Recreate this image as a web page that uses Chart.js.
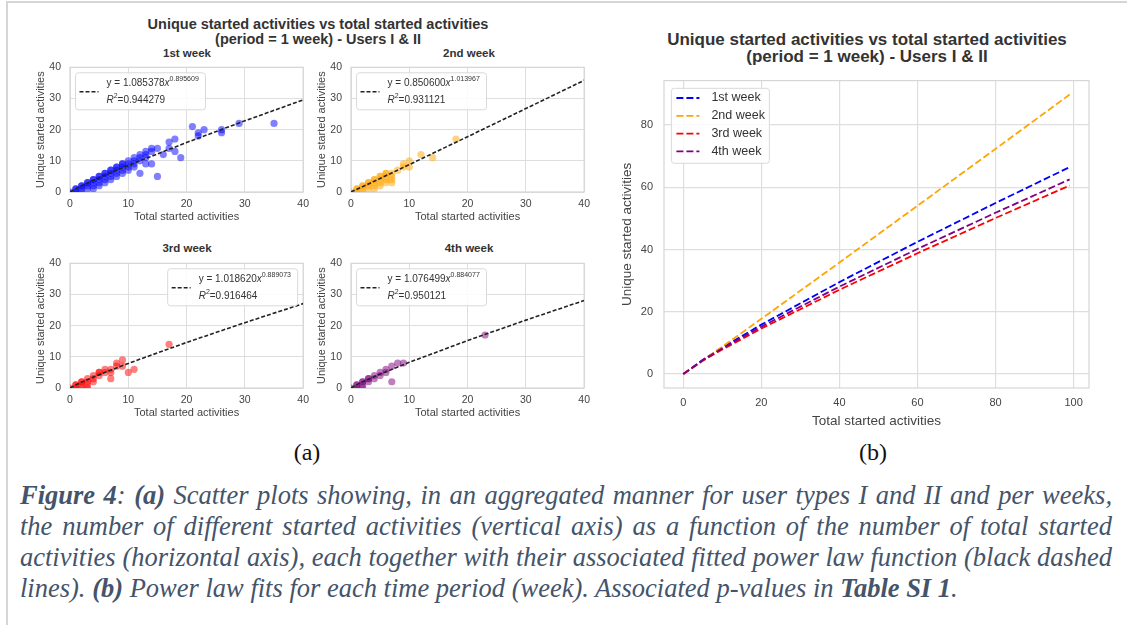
<!DOCTYPE html>
<html lang="en">
<head>
<meta charset="UTF-8">
<title>Unique started activities vs total started activities</title>
<script src="https://cdn.jsdelivr.net/npm/chart.js"></script>
<style>
  body { margin: 0; background: #fff; }
  #page { position: relative; width: 1127px; height: 625px; overflow: hidden; background: #fff;
          font-family: 'Liberation Sans', Arial, sans-serif; }
  .frame { position: absolute; left: 6px; top: 1px; width: 1200px; height: 700px;
           border-left: 2px solid #d6d6d6; border-top: 2px solid #d6d6d6; }
  canvas { position: absolute; }
  .title { position: absolute; text-align: center; font-weight: bold; color: #333; white-space: nowrap; }
  .sub { width: 200px; font-size: 11.5px; line-height: 14px; }
  .panel { position: absolute; font-family: 'Liberation Serif', 'Times New Roman', serif; font-size: 24px;
           color: #111; width: 60px; text-align: center; line-height: 28px; }
  .caption { position: absolute; left: 20px; top: 480px; width: 1092px; color: #44546a;
             font-family: 'Liberation Serif', 'Times New Roman', serif; font-style: italic;
             font-size: 26.5px; line-height: 31px; }
  .caption div { text-align: justify; text-align-last: justify; white-space: nowrap; }
  .caption div.last { text-align-last: left; }
</style>
</head>
<body>
<div id="page">
  <div class="frame"></div>

  <div class="title" style="left:118px; top:17px; width:400px; font-size:14.5px; line-height:15px;">
    Unique started activities vs total started activities<br>(period = 1 week) - Users I &amp; II
  </div>
  <div class="title sub" style="left:87px;  top:46px;">1st week</div>
  <div class="title sub" style="left:369px; top:46px;">2nd week</div>
  <div class="title sub" style="left:87px;  top:241px;">3rd week</div>
  <div class="title sub" style="left:369px; top:241px;">4th week</div>

  <canvas id="w1" width="281" height="172" style="left:34px;  top:52px;"></canvas>
  <canvas id="w2" width="281" height="172" style="left:315px; top:52px;"></canvas>
  <canvas id="w3" width="281" height="172" style="left:34px;  top:248px;"></canvas>
  <canvas id="w4" width="281" height="172" style="left:315px; top:248px;"></canvas>

  <div class="title" style="left:617px; top:31px; width:500px; font-size:17px; line-height:17px;">
    Unique started activities vs total started activities<br>(period = 1 week) - Users I &amp; II
  </div>
  <canvas id="fits" width="484" height="366" style="left:619px; top:63px;"></canvas>

  <div class="panel" style="left:277px; top:438px;">(a)</div>
  <div class="panel" style="left:843px; top:438px;">(b)</div>

  <div class="caption">
    <div><b>Figure 4</b>: <b>(a)</b> Scatter plots showing, in an aggregated manner for user types I and II and per weeks,</div>
    <div>the number of different started activities (vertical axis) as a function of the number of total started</div>
    <div>activities (horizontal axis), each together with their associated fitted power law function (black dashed</div>
    <div class="last">lines). <b>(b)</b> Power law fits for each time period (week). Associated p-values in <b>Table SI 1</b>.</div>
  </div>
</div>

<script>
// weekly scatter data: total started activities vs unique started activities
const w1Total  = [0,1,1,1,2,2,2,2,3,3,3,3,4,4,4,4,4,5,5,5,5,5,6,6,6,6,6,7,7,7,7,7,8,8,8,8,8,9,9,9,9,9,10,10,10,10,11,11,11,11,12,12,12,12,13,13,13,13,14,14,14,15,15,16,17,17,18,18,19,21,22,22,23,26,26,29,35];
const w1Unique = [0,1,1,0,2,2,1,0,3,3,2,1,4,4,3,2,1,5,5,4,3,2,6,6,5,4,3,7,7,6,5,4,8,8,7,6,5,9,9,8,7,6,10,9,8,7,11,10,9,8,12,11,10,6,13,12,11,9,14,13,9,14,5,12,14,16,17,13,11,21,19,18,20,20,19,22,22];
const w2Total  = [0,1,1,1,2,2,2,2,3,3,3,3,4,4,4,4,4,5,5,5,5,5,6,6,6,6,6,7,7,7,7,8,9,9,10,10,12,14,18];
const w2Unique = [0,1,1,0,2,2,1,0,3,3,2,1,4,4,3,2,1,5,5,4,3,2,6,6,5,4,3,6,5,4,3,7,9,8,10,8,12,11,17];
const w3Total  = [0,1,1,1,2,2,2,2,3,3,3,3,4,4,4,5,5,5,6,6,7,7,7,8,8,9,9,10,11,17];
const w3Unique = [0,1,1,0,2,2,1,0,3,2,1,0,4,3,2,5,5,4,6,5,6,5,3,8,7,9,7,5,6,14];
const w4Total  = [0,1,1,1,2,2,2,2,3,3,3,4,4,5,5,6,6,7,7,8,9,23];
const w4Unique = [0,1,1,0,2,2,1,0,3,3,2,4,3,5,4,6,5,7,2,8,8,17];

// fitted power laws y = a * x^b, with R^2
const weekNames = ['1st week', '2nd week', '3rd week', '4th week'];
const fitCoef = ['1.085378', '0.850600', '1.018620', '1.076499'];
const fitExp  = ['0.895609', '1.013967', '0.889073', '0.884077'];
const fitR2   = ['0.944279', '0.931121', '0.916464', '0.950121'];

// fit curves over the scatter range (0..40)
const fitX  = [0, 1, 2, 5, 10, 20, 30, 40];
const fitW1 = [0, 1.085, 2.019, 4.588, 8.536, 15.878, 22.830, 29.540];
const fitW2 = [0, 0.851, 1.718, 4.350, 8.784, 17.738, 26.761, 35.823];
const fitW3 = [0, 1.019, 1.886, 4.261, 7.891, 14.612, 20.954, 27.065];
const fitW4 = [0, 1.076, 1.987, 4.467, 8.243, 15.213, 21.772, 28.081];

// fit curves extended to 99 total activities
const longX  = [0, 5, 10, 20, 40, 60, 80, 99];
const longW1 = [0, 4.588, 8.536, 15.878, 29.540, 42.47, 54.95, 66.50];
const longW2 = [0, 4.350, 8.784, 17.738, 35.823, 54.06, 72.35, 89.79];
const longW3 = [0, 4.261, 7.891, 14.612, 27.065, 38.81, 50.12, 60.57];
const longW4 = [0, 4.467, 8.243, 15.213, 28.081, 40.19, 51.81, 62.55];

const weekColors = ['0,0,255', '255,165,0', '255,0,0', '128,0,128'];
const FONT = "'Liberation Sans', Arial, sans-serif";

Chart.defaults.font.family = FONT;
Chart.defaults.color = '#444';

const pts = (xs, ys) => xs.map((x, i) => ({ x: x, y: ys[i] }));

// text with italic and superscript runs, left aligned, vertically centred on y
function drawRich(ctx, x, y, parts, size) {
  let cx = x;
  for (const [t, kind] of parts) {
    const fs = kind === 's' ? size * 0.7 : size;
    ctx.font = (kind === 'i' ? 'italic ' : '') + fs + 'px ' + FONT;
    ctx.fillText(t, cx, kind === 's' ? y - size * 0.42 : y);
    cx += ctx.measureText(t).width;
  }
}

function legendBox(ctx, x, y, w, h) {
  ctx.beginPath();
  ctx.roundRect(x, y, w, h, 3);
  ctx.fillStyle = 'rgba(255,255,255,0.85)';
  ctx.fill();
  ctx.strokeStyle = '#d9d9d9';
  ctx.lineWidth = 1;
  ctx.stroke();
}

const framePlugin = {
  id: 'frame',
  beforeDatasetsDraw(chart) {
    const { ctx, chartArea: a } = chart;
    ctx.save();
    ctx.strokeStyle = '#d6d6d6';
    ctx.lineWidth = 1.2;
    ctx.strokeRect(a.left, a.top, a.right - a.left, a.bottom - a.top);
    ctx.restore();
  },
  afterDraw(chart, args, opts) {
    const { ctx, chartArea: a } = chart;
    ctx.save();
    ctx.textBaseline = 'middle';
    if (opts.week !== undefined) {
      // power law legend of one scatter panel
      const k = opts.week, w = 130, h = 37;
      const x = opts.corner === 'right' ? a.right - 5.5 - w : a.left + 5.5;
      const y = a.top + 5.5;
      legendBox(ctx, x, y, w, h);
      ctx.setLineDash([4, 2]);
      ctx.strokeStyle = '#222';
      ctx.lineWidth = 1.6;
      ctx.beginPath();
      ctx.moveTo(x + 4, y + 19);
      ctx.lineTo(x + 23, y + 19);
      ctx.stroke();
      ctx.fillStyle = '#333';
      drawRich(ctx, x + 31, y + 10, [['y = ' + fitCoef[k], 'n'], ['x', 'i'], [fitExp[k], 's']], 10);
      drawRich(ctx, x + 31, y + 27, [['R', 'i'], ['2', 's'], ['=' + fitR2[k], 'n']], 10);
    }
    if (opts.weeks) {
      // legend of the four fitted curves
      const x = a.left + 7.4, y = a.top + 7.7;
      legendBox(ctx, x, y, 98, 75);
      weekNames.forEach((name, i) => {
        const ry = y + 9.7 + i * 17.8;
        ctx.setLineDash([7, 3]);
        ctx.strokeStyle = 'rgb(' + weekColors[i] + ')';
        ctx.lineWidth = 1.8;
        ctx.beginPath();
        ctx.moveTo(x + 5, ry);
        ctx.lineTo(x + 28, ry);
        ctx.stroke();
        ctx.setLineDash([]);
        ctx.fillStyle = '#333';
        ctx.font = '12.5px ' + FONT;
        ctx.fillText(name, x + 40, ry);
      });
    }
    ctx.restore();
  }
};

function axis(opts) {
  return {
    type: 'linear',
    min: opts.min, max: opts.max,
    ticks: { stepSize: opts.step, includeBounds: false, padding: opts.pad, color: '#444', font: { size: opts.tick } },
    grid: { color: '#dedede', lineWidth: opts.grid, drawTicks: false },
    border: { display: false },
    title: { display: true, text: opts.title, color: '#444', font: { size: opts.label }, padding: 0 },
    afterFit: opts.fit
  };
}

function weekChart(id, k, xs, ys, fit, corner) {
  new Chart(document.getElementById(id), {
    type: 'scatter',
    data: {
      datasets: [
        {
          type: 'line', data: pts(fitX, fit), borderColor: '#222', borderWidth: 1.6,
          borderDash: [4, 2], pointRadius: 0, fill: false, tension: 0
        },
        {
          data: pts(xs, ys), pointRadius: 3.6, pointBorderWidth: 0,
          pointBackgroundColor: 'rgba(' + weekColors[k] + ',0.5)'
        }
      ]
    },
    options: {
      responsive: false, animation: false, events: [],
      layout: { padding: { top: 10, right: 10 } },
      plugins: { legend: { display: false }, tooltip: { enabled: false }, frame: { week: k, corner: corner } },
      scales: {
        x: axis({ min: 0, max: 40, step: 10, pad: 6, tick: 10.5, label: 11, grid: 1,
                  title: 'Total started activities', fit: s => { s.height = 32; } }),
        y: axis({ min: 0, max: 40, step: 10, pad: 9, tick: 10.5, label: 11, grid: 1,
                  title: 'Unique started activities', fit: s => { s.width = 36; } })
      }
    },
    plugins: [framePlugin]
  });
}

weekChart('w1', 0, w1Total, w1Unique, fitW1, 'left');
weekChart('w2', 1, w2Total, w2Unique, fitW2, 'left');
weekChart('w3', 2, w3Total, w3Unique, fitW3, 'right');
weekChart('w4', 3, w4Total, w4Unique, fitW4, 'left');

const longSeries = [longW1, longW2, longW3, longW4];
new Chart(document.getElementById('fits'), {
  type: 'line',
  data: {
    datasets: longSeries.map((ys, i) => ({
      label: weekNames[i], data: pts(longX, ys),
      borderColor: 'rgb(' + weekColors[i] + ')', borderWidth: 1.8, borderDash: [7, 3],
      pointRadius: 0, fill: false, tension: 0, order: 4 - i
    }))
  },
  options: {
    responsive: false, animation: false, events: [],
    layout: { padding: { top: 10, right: 14 } },
    plugins: { legend: { display: false }, tooltip: { enabled: false }, frame: { weeks: true } },
    scales: {
      x: axis({ min: -4.95, max: 103.95, step: 20, pad: 8.4, tick: 11, label: 13.5, grid: 1.2,
                title: 'Total started activities', fit: s => { s.height = 41; } }),
      y: axis({ min: -4.49, max: 94.28, step: 20, pad: 11, tick: 11, label: 13.5, grid: 1.2,
                title: 'Unique started activities', fit: s => { s.width = 45; } })
    }
  },
  plugins: [framePlugin]
});
</script>
</body>
</html>
